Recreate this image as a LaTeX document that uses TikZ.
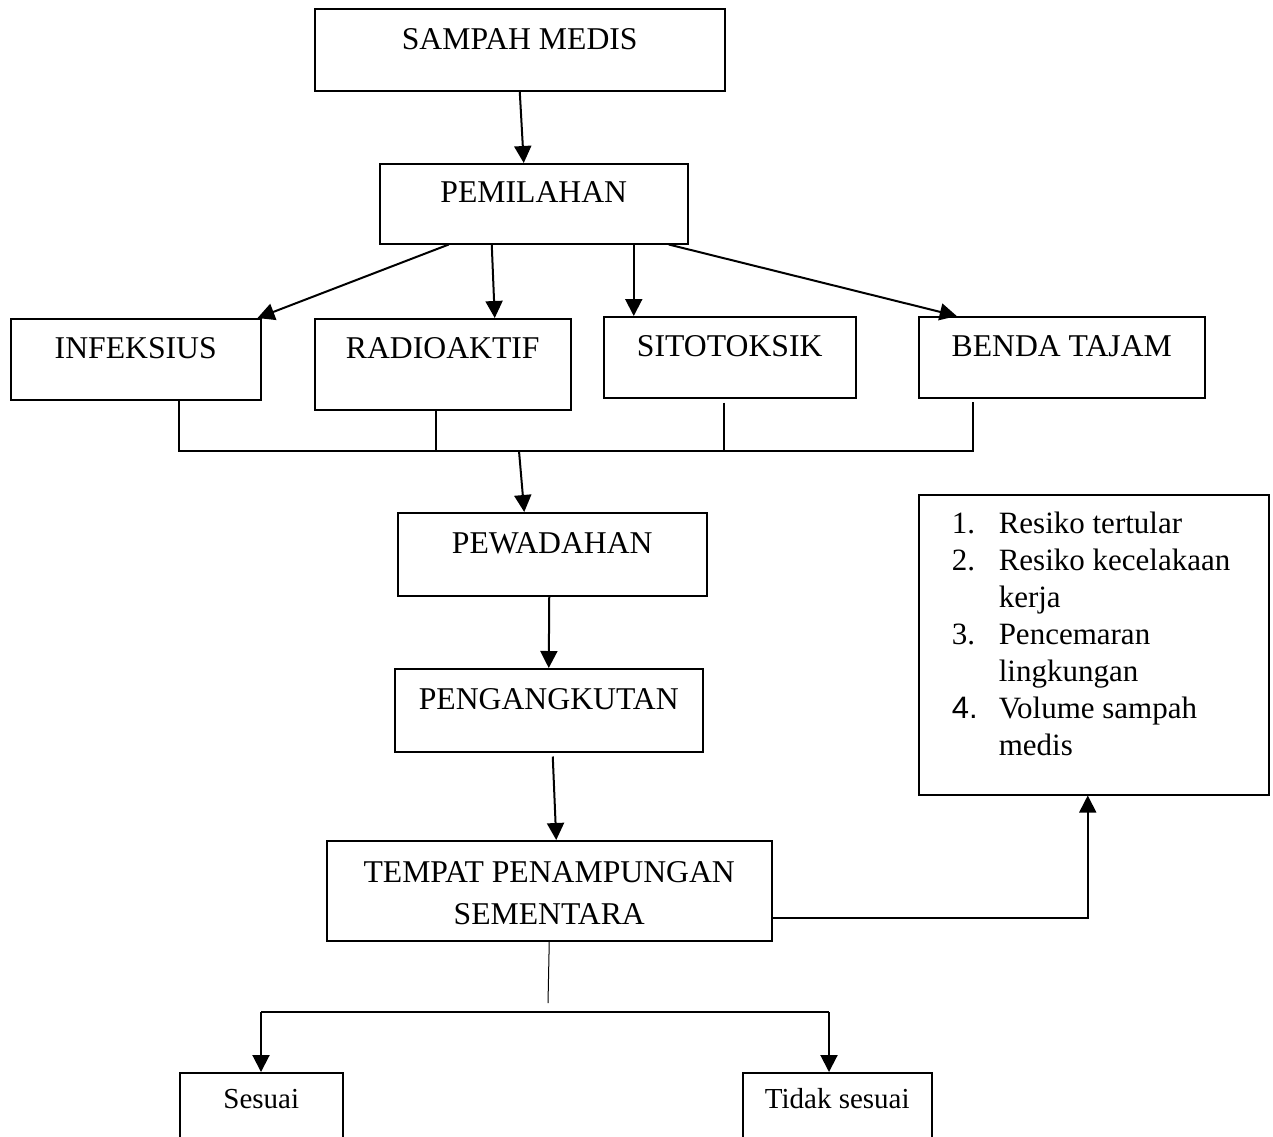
\documentclass[tikz,border=0pt]{standalone}
\usepackage{fontspec}
\setmainfont{Liberation Serif}
\newfontfamily\numfont{Liberation Sans}
\usepackage{tikz}
\usetikzlibrary{arrows.meta,positioning,calc}

\begin{document}
\begin{tikzpicture}[
    x=1pt, y=-1pt,
    font=\fontsize{31.7}{42}\selectfont,
    box/.style={draw=black, line width=1.5pt, inner sep=0pt, anchor=north west, align=center, fill=white},
    arr/.style={-{Triangle[length=17pt, width=17pt]}, line width=2pt, draw=black},
    bus/.style={line width=1.2pt, draw=black}
]
  \useasboundingbox (0,0) rectangle (1273,1136);
  \clip (0,0) rectangle (1273,1136);

  \node[box, minimum width=410, text height=41, text depth=41] (sampah)     at (314,8)   {SAMPAH MEDIS};
  \node[box, minimum width=308, text height=39, text depth=41] (pemilahan)  at (379,163) {PEMILAHAN};

  \node[box, minimum width=250, text height=40, text depth=41] (infeksius)  at (10,318)  {INFEKSIUS};
  \node[box, minimum width=256, text height=40, text depth=51] (radioaktif) at (314,318) {RADIOAKTIF};
  \node[box, minimum width=252, text height=40, text depth=41] (sitotoksik) at (603,316) {SITOTOKSIK};
  \node[box, minimum width=286, text height=40, text depth=41] (benda)      at (918,316) {BENDA TAJAM};

  \node[box, minimum width=309, text height=41, text depth=42] (pewadahan)    at (397,512) {PEWADAHAN};
  \node[box, minimum width=308, text height=41, text depth=42] (pengangkutan) at (394,668) {PENGANGKUTAN};
  \node[box, minimum width=445, text height=42, text depth=58] (tps) at (326,840)
    {\begin{tabular}[t]{@{}c@{}}TEMPAT PENAMPUNGAN\\SEMENTARA\end{tabular}};

  % daftar dampak
  \node[box, minimum width=350, text height=39, text depth=261, font=\fontsize{31}{37}\selectfont] (dampak) at (918,494)
    {\begin{tabular}[t]{@{\hspace{33pt}}p{47pt}@{}p{270pt}@{}}
      1. & Resiko tertular\\
      2. & Resiko kecelakaan\\
         & kerja\\
      3. & Pencemaran\\
         & lingkungan\\
      {\numfont 4.} & Volume sampah\\
         & medis
    \end{tabular}};

  \node[box, minimum width=163, text height=36, text depth=60, font=\fontsize{29}{35}\selectfont] (sesuai) at (179,1072) {Sesuai};
  \node[box, minimum width=189, text height=36, text depth=60, font=\fontsize{29}{35}\selectfont] (tidak)  at (742,1072) {Tidak sesuai};

  \draw[arr] (sampah.south) -- ([xshift=-10pt]pemilahan.north);
  \draw[arr] ([xshift=-85pt]pemilahan.south) -- ([xshift=-4pt]infeksius.north east);
  \draw[arr] ([xshift=-42pt]pemilahan.south) -- ([xshift=52pt]radioaktif.north);
  \draw[arr] ([xshift=100pt]pemilahan.south) -- ([xshift=-96pt]sitotoksik.north);
  \draw[arr] ([xshift=135pt]pemilahan.south) -- ([xshift=-105pt]benda.north);

  % garis pengumpul
  \coordinate (j1) at (179,451);
  \coordinate (j2) at (436,451);
  \coordinate (j3) at (724,451);
  \coordinate (j4) at (973,451);
  \coordinate (jm) at (519,451);
  \draw[bus] (j1 |- infeksius.south) -- (j1) -- (j4) -- ([yshift=-3pt]j4 |- benda.south);
  \draw[bus] (j2 |- radioaktif.south) -- (j2);
  \draw[bus] ([yshift=-4pt]j3 |- sitotoksik.south) -- (j3);
  \draw[arr] (jm) -- ([xshift=-28pt]pewadahan.north);

  \draw[arr] ([xshift=-3pt]pewadahan.south) -- (pengangkutan.north);
  \draw[arr] ([xshift=4pt, yshift=-4pt]pengangkutan.south) -- ([xshift=7pt]tps.north);
  \draw[arr, line width=1.7pt] ([yshift=-27pt]tps.east) -| ([xshift=-6pt]dampak.south);

  % percabangan
  \coordinate (split) at (548,1003);
  \coordinate (kiri)  at (261,1012);
  \coordinate (kanan) at (829,1012);
  \draw[line width=1pt] (tps.south) -- (split);
  \draw[line width=1.7pt] (kiri) -- (kanan);
  \draw[arr] (kiri) -- (kiri |- sesuai.north);
  \draw[arr] (kanan) -- (kanan |- tidak.north);
\end{tikzpicture}
\end{document}
